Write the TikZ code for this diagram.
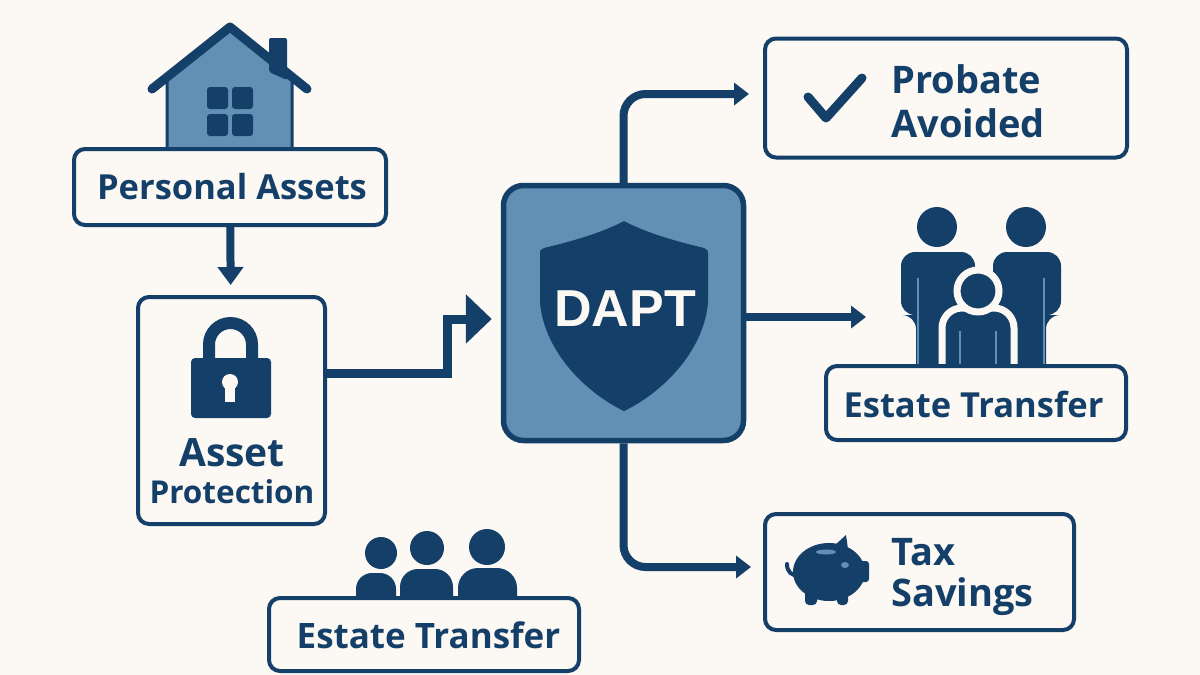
\documentclass[tikz,border=0pt]{standalone}
\usepackage{fontspec}
\setmainfont{Open Sans}
\newfontfamily\dapffont{Liberation Sans}
\usepackage{tikz}
\usetikzlibrary{positioning,arrows.meta}
\definecolor{navyclr}{HTML}{143F69}
\definecolor{midclr}{HTML}{6290B5}
\definecolor{paperclr}{HTML}{FCF8F3}
\tikzset{ %
  ,>=latex
  ,every node/.style={font=\bfseries\fontsize{34.5}{43}\selectfont, text=navyclr}
  ,card/.style={draw=navyclr, line width=4pt, rounded corners=11pt, fill=paperclr, inner sep=0}
  ,label/.style={inner sep=0, align=left, font=\bfseries\fontsize{38}{44}\selectfont}
  ,flow/.style={draw=navyclr, line width=8pt, -{Triangle[length=15pt,width=22pt]}}
  ,gap line/.style={draw=midclr, line width=2pt}
}

\begin{document}
\begin{tikzpicture}[x=1pt, y=-1pt]
      \useasboundingbox[fill=paperclr] (0,0) rectangle (1200,675);
      % house
      \fill[midclr, draw=navyclr, line width=3pt] (167,150) -- (167,75) -- (230,30) -- (292,75) -- (292,150) -- cycle;
      \fill[navyclr, rounded corners=2pt] (269,72) -- (269,38) -- (287,38) -- (287,80) -- cycle;
      \draw[navyclr, line width=9pt, line cap=round, line join=round] (152,89) -- (230,27) -- (307,89);
      \foreach \px/\py in {207/87, 232/87, 207/114, 232/114}
        \fill[navyclr, rounded corners=3pt] (\px,\py) rectangle ++(21,22);
      % parents and child
      \fill[navyclr] (937,227) circle (20) (1026,227) circle (20);
      \fill[navyclr, rounded corners=14pt] (901,315) -- (901,252) -- (975,252) -- (975,385) -- (916,385) -- (916,315) -- cycle;
      \fill[navyclr, rounded corners=14pt] (1061,315) -- (1061,252) -- (993,252) -- (993,385) -- (1046,385) -- (1046,315) -- cycle;
      \draw[gap line] (918,278) -- (918,364) (1044,278) -- (1044,364);
      \fill[navyclr, draw=paperclr, line width=7pt, rounded corners=20pt] (942,390) -- (942,308) -- (1014,308) -- (1014,390);
      \fill[navyclr, draw=paperclr, line width=7pt] (978,291) circle (21);
      \draw[gap line] (960,331) -- (960,364) (996,331) -- (996,364);
      % children row
      \fill[navyclr] (381,553) circle (16) (427,548) circle (17) (487,547) circle (18);
      \fill[navyclr, rounded corners=16pt] (356,620) -- (356,573) -- (396,573) -- (396,620) -- cycle;
      \fill[navyclr, rounded corners=18pt] (400,620) -- (400,569) -- (453,569) -- (453,620) -- cycle;
      \fill[navyclr, rounded corners=20pt] (458,620) -- (458,568) -- (517,568) -- (517,620) -- cycle;

      \node[card, minimum width=312pt, minimum height=76pt] (assets) at (230,187) {};
      \node[label, font=\bfseries\fontsize{34.5}{43}\selectfont] (assetslbl) at (232,187) {Personal Assets};
      \node[card, minimum width=187pt, minimum height=227pt, below=68pt of assets, xshift=1.5pt] (protect) {};
      \node[label, font=\bfseries\fontsize{39}{44}\selectfont] (assetlbl) at (232,453) {Asset};
      \node[label, font=\bfseries\fontsize{31.5}{38}\selectfont, below=12pt of assetlbl] (protectlbl) {Protection};
      \node[card, line width=5.5pt, fill=midclr, rounded corners=20pt, minimum width=240pt, minimum height=255pt] (dapt) at (623.5,313) {};
      \node[card, minimum width=362pt, minimum height=119pt] (probate) at (946,98) {};
      \node[label, anchor=west] (probatelbl) at (891,101) {Probate\\Avoided};
      \node[card, minimum width=300pt, minimum height=74pt] (estate) at (976,403) {};
      \node[label, font=\bfseries\fontsize{34.5}{43}\selectfont] (estatelbl) at (973.5,404) {Estate Transfer};
      \node[card, minimum width=309pt, minimum height=116pt] (tax) at (919.5,572) {};
      \node[label, anchor=west] (taxlbl) at (891,577) {Tax\\[-3pt]Savings};
      \node[card, minimum width=310pt, minimum height=73pt] (estatetoo) at (424,634.5) {};
      \node[label, font=\bfseries\fontsize{35}{43}\selectfont] (estatetoolbl) at (428.5,635) {Estate Transfer};
      \coordinate (family) at (866,317);
      \coordinate (kink) at (447,319);

      % lock
      \draw[navyclr, line width=12pt] (209,360) -- (209,344.5) arc[start angle=180, end angle=360, radius=21.5] -- (252,360);
      \fill[navyclr, rounded corners=4pt] (191,358) rectangle (271,418);
      \fill[paperclr] (230,382) circle (8);
      \fill[paperclr] (225,382) rectangle (235,402);
      % shield
      \fill[navyclr] (624,221) .. controls (600,234) and (565,243) .. (544,248) .. controls (541,249) and (540,250) .. (540,254) -- (540,303) .. controls (545,355) and (590,395) .. (624,411) .. controls (658,395) and (703,355) .. (708,303) -- (708,254) .. controls (708,250) and (707,249) .. (704,248) .. controls (683,243) and (648,234) .. (624,221) -- cycle;
      \node[font=\dapffont\bfseries\fontsize{52}{52}\selectfont, text=paperclr, inner sep=0] (daptlbl) at (625,309) {DAPT};
      % check mark
      \draw[navyclr, line width=9pt, line cap=round, line join=round] (808,97) -- (826,118) -- (862,78);
      % piggy
      \fill[navyclr] (829,572) ellipse (36 and 29);
      \fill[navyclr, rounded corners=3pt] (855,561) rectangle (869,582);
      \fill[navyclr] (834,546) -- (846,535) -- (849,556) -- cycle;
      \fill[navyclr, rounded corners=4pt] (805,590) rectangle (817,605) (837,590) rectangle (848,605);
      \draw[navyclr, line width=4pt, line cap=round] (787,564) .. controls (787,572) and (792,576) .. (798,575);
      \fill[midclr] (826,552) ellipse (10 and 2.5) (845,565) ellipse (4 and 3);

      % connectors
      \draw[flow, -{Triangle[length=18pt,width=25pt]}, shorten >=10pt] (assets) -- (protect);
      \draw[flow, line width=9pt, -{Triangle[length=26pt,width=48pt]}, shorten >=9pt] ([yshift=37pt]protect.east) -| (kink) -- ([yshift=-6pt]dapt.west);
      \draw[flow, rounded corners=22pt, shorten >=14pt] (dapt.north) |- ([yshift=4pt]probate.west);
      \draw[flow] ([yshift=-4pt]dapt.east) -- (family);
      \draw[flow, rounded corners=22pt, shorten >=12pt] (dapt.south) |- ([yshift=5pt]tax.west);
\end{tikzpicture}
\end{document}
